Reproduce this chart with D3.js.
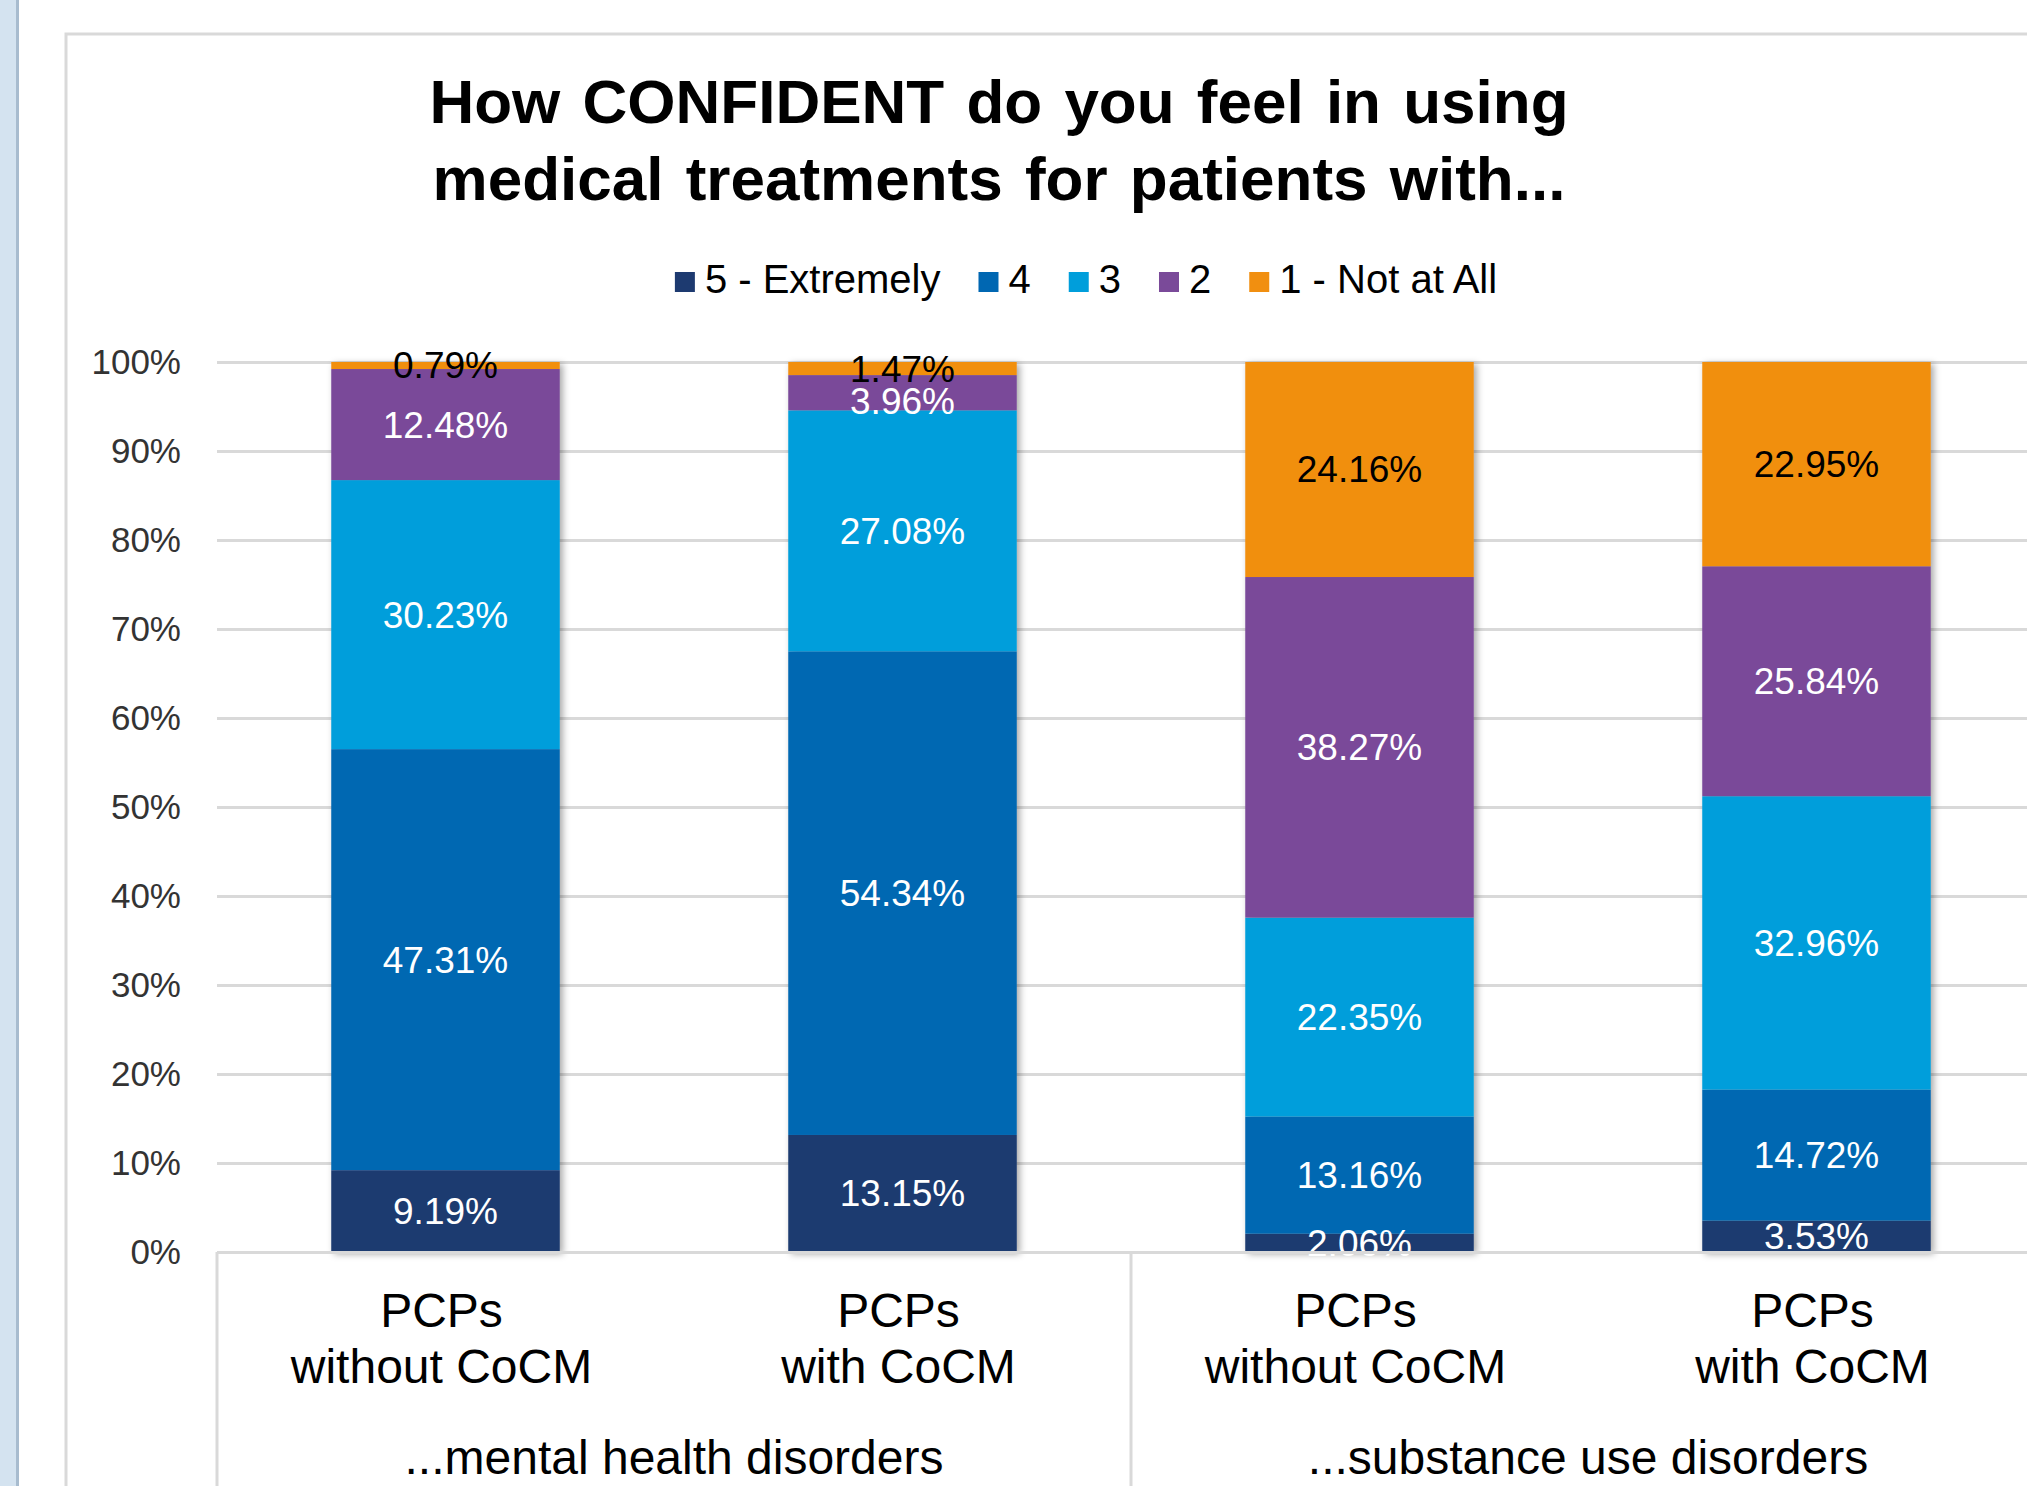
<!DOCTYPE html>
<html>
<head>
<meta charset="utf-8">
<script src="https://cdn.jsdelivr.net/npm/d3@7"></script>
<style>
  body { margin: 0; background: #fff; }
  svg { display: block; font-family: "Liberation Sans", Arial, sans-serif; }
</style>
</head>
<body>
<div id="chart"></div>
<script>
// categories (bottom level + group level)
const categories = ['mh_without', 'mh_with', 'sud_without', 'sud_with'];
const catLines = [['PCPs', 'without CoCM'], ['PCPs', 'with CoCM'], ['PCPs', 'without CoCM'], ['PCPs', 'with CoCM']];
const groups = ['...mental health disorders', '...substance use disorders'];
const groupOf = [0, 0, 1, 1];

// series, stacked bottom to top
const seriesNames = ['5 - Extremely', '4', '3', '2', '1 - Not at All'];
const s5 = [9.19, 13.15, 2.06, 3.53];
const s4 = [47.31, 54.34, 13.16, 14.72];
const s3 = [30.23, 27.08, 22.35, 32.96];
const s2 = [12.48, 3.96, 38.27, 25.84];
const s1 = [0.79, 1.47, 24.16, 22.95];
const yTicks = [0, 10, 20, 30, 40, 50, 60, 70, 80, 90, 100];

const colors = ['#1d3a70', '#0067b2', '#009edb', '#7a4a99', '#f18f10'];
const labelColors = ['#fff', '#fff', '#fff', '#fff', '#000'];

const W = 2027, H = 1486;
const margin = { top: 362, left: 217, bottom: 234 };
const plotW = 1828; // plot runs past the right edge of the picture
const plotH = H - margin.top - margin.bottom;

const svg = d3.select('#chart').append('svg')
  .attr('width', W)
  .attr('height', H);

// drop shadow for bars
const f = svg.append('defs').append('filter')
  .attr('id', 'barShadow')
  .attr('x', '-20%').attr('y', '-5%')
  .attr('width', '140%').attr('height', '110%');
f.append('feDropShadow')
  .attr('dx', 3).attr('dy', 2)
  .attr('stdDeviation', 3.5)
  .attr('flood-color', '#000')
  .attr('flood-opacity', 0.35);

// page furniture: left window strip and chart frame
svg.append('rect').attr('x', 0).attr('y', 0).attr('width', 16).attr('height', H).attr('fill', '#d4e3f0');
svg.append('rect').attr('x', 16).attr('y', 0).attr('width', 3).attr('height', H).attr('fill', '#a8bccf');
svg.append('path')
  .attr('d', `M66,${H} V34 H${W}`)
  .attr('fill', 'none')
  .attr('stroke', '#d9d9d9')
  .attr('stroke-width', 3);

// title
const title = svg.append('text')
  .attr('text-anchor', 'middle')
  .attr('font-weight', 'bold')
  .attr('font-size', 62)
  .attr('word-spacing', 5)
  .attr('fill', '#000');
title.append('tspan').attr('x', 999).attr('y', 123).text('How CONFIDENT do you feel in using');
title.append('tspan').attr('x', 999).attr('y', 200).text('medical treatments for patients with...');

// scales
const x = d3.scaleBand()
  .domain(categories)
  .range([0, plotW])
  .paddingInner(0.5)
  .paddingOuter(0.25);

const y = d3.scaleLinear()
  .domain([0, 100])
  .range([plotH, 0]);

const chart = svg.append('g')
  .attr('transform', `translate(${margin.left},${margin.top})`);

// y axis with gridlines
const yAxisG = chart.append('g')
  .attr('class', 'y-axis')
  .call(d3.axisLeft(y)
    .tickValues(yTicks)
    .tickSize(-plotW)
    .tickPadding(36)
    .tickFormat(d => d + '%'));
yAxisG.select('.domain').remove();
yAxisG.selectAll('.tick line')
  .attr('stroke', '#d9d9d9')
  .attr('stroke-width', 3);
yAxisG.selectAll('.tick text')
  .attr('font-size', 35)
  .attr('fill', '#333')
  .attr('font-family', '"Liberation Sans", Arial, sans-serif');

// stacked data
const table = categories.map((c, i) => ({
  cat: c, s5: s5[i], s4: s4[i], s3: s3[i], s2: s2[i], s1: s1[i]
}));
const keys = ['s5', 's4', 's3', 's2', 's1'];
const stacked = d3.stack().keys(keys)(table);

// bars, one group per category so the shadow wraps the whole column
const barG = chart.append('g').attr('class', 'bars');
categories.forEach((c, i) => {
  const g = barG.append('g').attr('filter', 'url(#barShadow)');
  stacked.forEach((layer, k) => {
    const d = layer[i];
    g.append('rect')
      .attr('x', x(c))
      .attr('width', x.bandwidth())
      .attr('y', y(d[1]))
      .attr('height', y(d[0]) - y(d[1]))
      .attr('fill', colors[k]);
  });
});

// data labels, centred in segment, nudged down if crowding the one above
const labelG = chart.append('g').attr('class', 'labels');
categories.forEach((c, i) => {
  let lastY = -Infinity;
  for (let k = stacked.length - 1; k >= 0; k--) {
    const d = stacked[k][i];
    let ly = (y(d[0]) + y(d[1])) / 2;
    if (ly - lastY < 33) ly = lastY + 33;
    lastY = ly;
    labelG.append('text')
      .attr('x', x(c) + x.bandwidth() / 2)
      .attr('y', ly)
      .attr('dy', '0.35em')
      .attr('text-anchor', 'middle')
      .attr('font-size', 37)
      .attr('fill', labelColors[k])
      .text(d.data[keys[k]].toFixed(2) + '%');
  }
});

// x axis (category labels)
const xAxisG = chart.append('g')
  .attr('class', 'x-axis')
  .attr('transform', `translate(0,${plotH})`)
  .call(d3.axisBottom(x).tickSize(0).tickFormat(''));
xAxisG.select('.domain')
  .attr('stroke', '#d9d9d9')
  .attr('stroke-width', 3);

categories.forEach((c, i) => {
  const t = xAxisG.append('text')
    .attr('text-anchor', 'middle')
    .attr('font-size', 48)
    .attr('fill', '#000');
  catLines[i].forEach((line, j) => {
    t.append('tspan')
      .attr('x', x(c) + x.bandwidth() / 2 - 4)
      .attr('y', 75 + j * 56)
      .text(line);
  });
});

// group separators and group labels
const step = x.step();
const sepXs = [0];
groups.forEach((gname, gi) => {
  const idx = categories.filter((c, i) => groupOf[i] === gi);
  const left = x(idx[0]) - step * x.paddingInner() / 2;
  const right = x(idx[idx.length - 1]) + x.bandwidth() + step * x.paddingInner() / 2;
  sepXs.push(right);
  xAxisG.append('text')
    .attr('x', (left + right) / 2)
    .attr('y', 222)
    .attr('text-anchor', 'middle')
    .attr('font-size', 48)
    .attr('fill', '#000')
    .text(gname);
});
xAxisG.selectAll('.sep')
  .data(sepXs)
  .join('line')
  .attr('class', 'sep')
  .attr('x1', d => d).attr('x2', d => d)
  .attr('y1', 0).attr('y2', margin.bottom)
  .attr('stroke', '#d9d9d9')
  .attr('stroke-width', 3);

// legend
const legend = svg.append('g').attr('class', 'legend');
let lx = 0;
seriesNames.forEach((name, k) => {
  const item = legend.append('g').attr('transform', `translate(${lx},0)`);
  item.append('rect')
    .attr('x', 0).attr('y', -21)
    .attr('width', 20).attr('height', 20)
    .attr('fill', colors[k]);
  const t = item.append('text')
    .attr('x', 30).attr('y', 0)
    .attr('font-size', 40)
    .attr('fill', '#000')
    .text(name);
  lx += 30 + t.node().getComputedTextLength() + 38;
});
const legendW = lx - 38;
legend.attr('transform', `translate(${1086 - legendW / 2},293)`);
</script>
</body>
</html>
